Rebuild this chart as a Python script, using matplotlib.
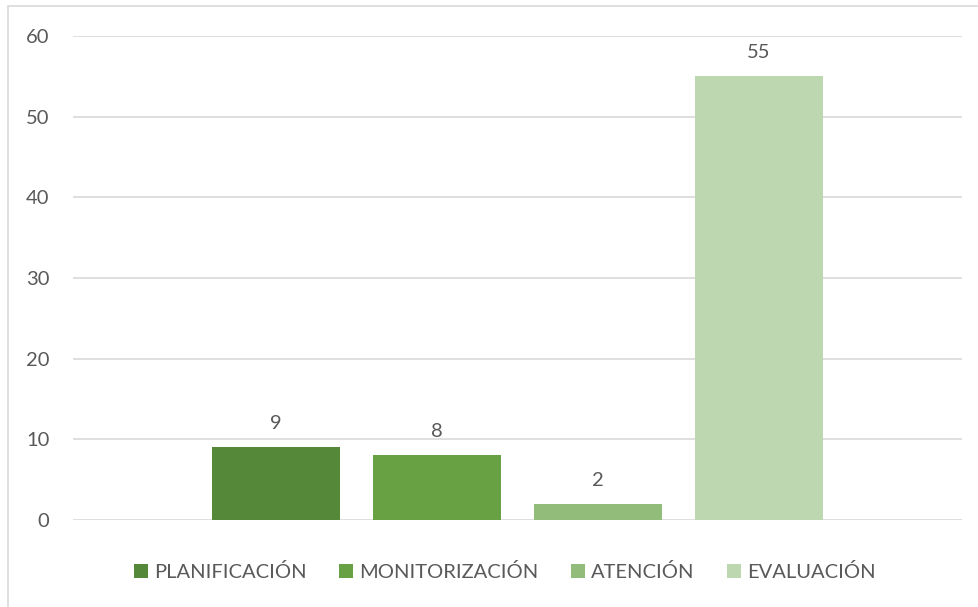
import matplotlib.pyplot as plt
from matplotlib.patches import Rectangle

categories = ['PLANIFICACIÓN', 'MONITORIZACIÓN', 'ATENCIÓN', 'EVALUACIÓN']
values = [9, 8, 2, 55]
colors = ['#558838', '#68A143', '#91BC79', '#BDD7B1']
yticks = [0, 10, 20, 30, 40, 50, 60]

plt.rcParams['font.family'] = ['Lato', 'DejaVu Sans']
text_color = '#595959'

fig = plt.figure(figsize=(9.79, 6.07), dpi=100)
ax = fig.add_axes([73 / 979, 1 - 520 / 607, (962 - 73) / 979, (520 - 36) / 607])

# chart frame (cropped on right and bottom like the source)
fig.patches.append(Rectangle((8 / 979, -0.1), 1.2, 1 - 6 / 607 + 0.1,
                             transform=fig.transFigure, fill=False,
                             edgecolor='#D9D9D9', linewidth=1.2))

spacing = 161 / 889
width = 128 / 889
offsets = [(i - 1.5) * spacing for i in range(len(values))]

for off, v, c, lab in zip(offsets, values, colors, categories):
    ax.bar(off, v, width=width, color=c, label=lab, zorder=3)
    ax.annotate(str(v), (off, v), xytext=(0, 11), textcoords='offset points',
                ha='center', va='bottom', fontsize=14.5, color=text_color)

ax.set_xlim(-0.5, 0.5)
ax.set_ylim(0, 60)
ax.set_yticks(yticks)
ax.set_xticks([])
ax.tick_params(axis='y', length=0, pad=17, labelsize=14.5, labelcolor=text_color)
ax.grid(axis='y', color='#D9D9D9', linewidth=1.2, zorder=0)
for s in ax.spines.values():
    s.set_visible(False)

fig.legend(loc='center', bbox_to_anchor=(505 / 979, 1 - 572 / 607), ncol=4,
           frameon=False, fontsize=14.5, labelcolor=text_color,
           handlelength=0.7, handleheight=0.7, handletextpad=0.3,
           columnspacing=1.6)

fig.savefig('out.png', dpi=100)
